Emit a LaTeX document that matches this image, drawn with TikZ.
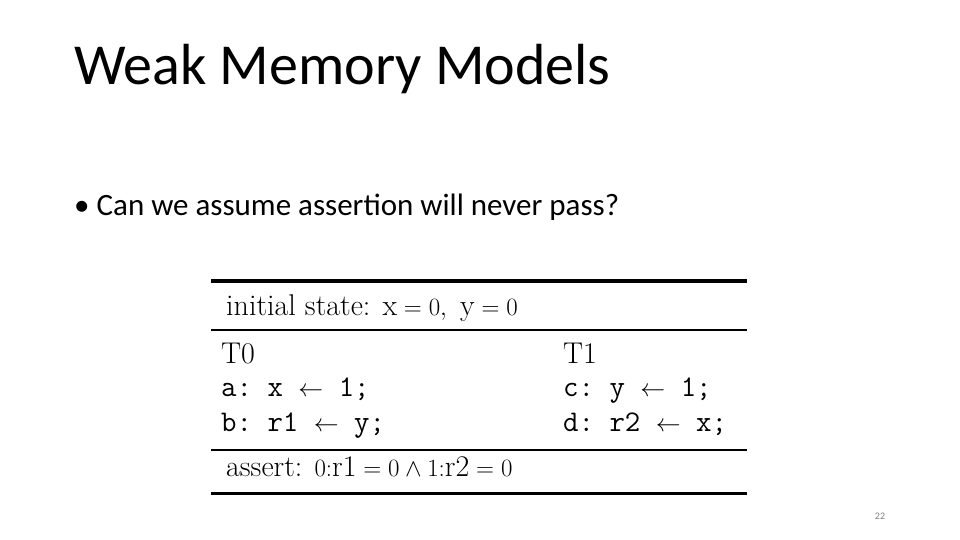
\documentclass[tikz,border=0pt]{standalone}
\usepackage{fontspec}
\newfontfamily\calfont{Carlito}
\begin{document}
\begin{tikzpicture}[x=1pt,y=-1pt,
  tt/.style={anchor=base west,inner sep=0pt,font=\fontsize{30}{34}\selectfont},
  rm/.style={anchor=base west,inner sep=0pt,font=\fontsize{30}{34}\selectfont}]
\useasboundingbox[fill=white] (0,0) rectangle (960,540);
\node[anchor=base west,inner sep=0pt,font=\calfont\fontsize{58}{62}\selectfont] (title) at (74,85) {Weak Memory Models};
\node[anchor=base west,inner sep=0pt,font=\calfont\fontsize{31}{35}\selectfont] (bullet) at (74,215) {\textbullet{} Can we assume assertion will never pass?};
\draw[line width=4pt] (211,281) -- (747,281);
\draw[line width=1.5pt] (211,330) -- (747,330);
\draw[line width=1.5pt] (211,450) -- (747,450);
\draw[line width=3pt] (211,493) -- (747,493);
\node[rm] (init) at (226,315) {initial state: $\mathrm{x}=0,\ \mathrm{y}=0$};
\node[rm] (t0) at (221,363) {T0};
\node[rm] (t1) at (563,363) {T1};
\node[tt] (a) at (221,396) {\texttt{a:\ x $\leftarrow$ 1;}};
\node[tt] (b) at (221,431) {\texttt{b:\ r1 $\leftarrow$ y;}};
\node[tt] (c) at (563,396) {\texttt{c:\ y $\leftarrow$ 1;}};
\node[tt] (d) at (563,431) {\texttt{d:\ r2 $\leftarrow$ x;}};
\node[rm] (as) at (226,476) {assert: $0{:}\mathrm{r1}=0\wedge 1{:}\mathrm{r2}=0$};
\node[anchor=base,inner sep=0pt,text=gray,font=\calfont\fontsize{10}{12}\selectfont] (pg) at (880,519) {22};
\end{tikzpicture}
\end{document}
